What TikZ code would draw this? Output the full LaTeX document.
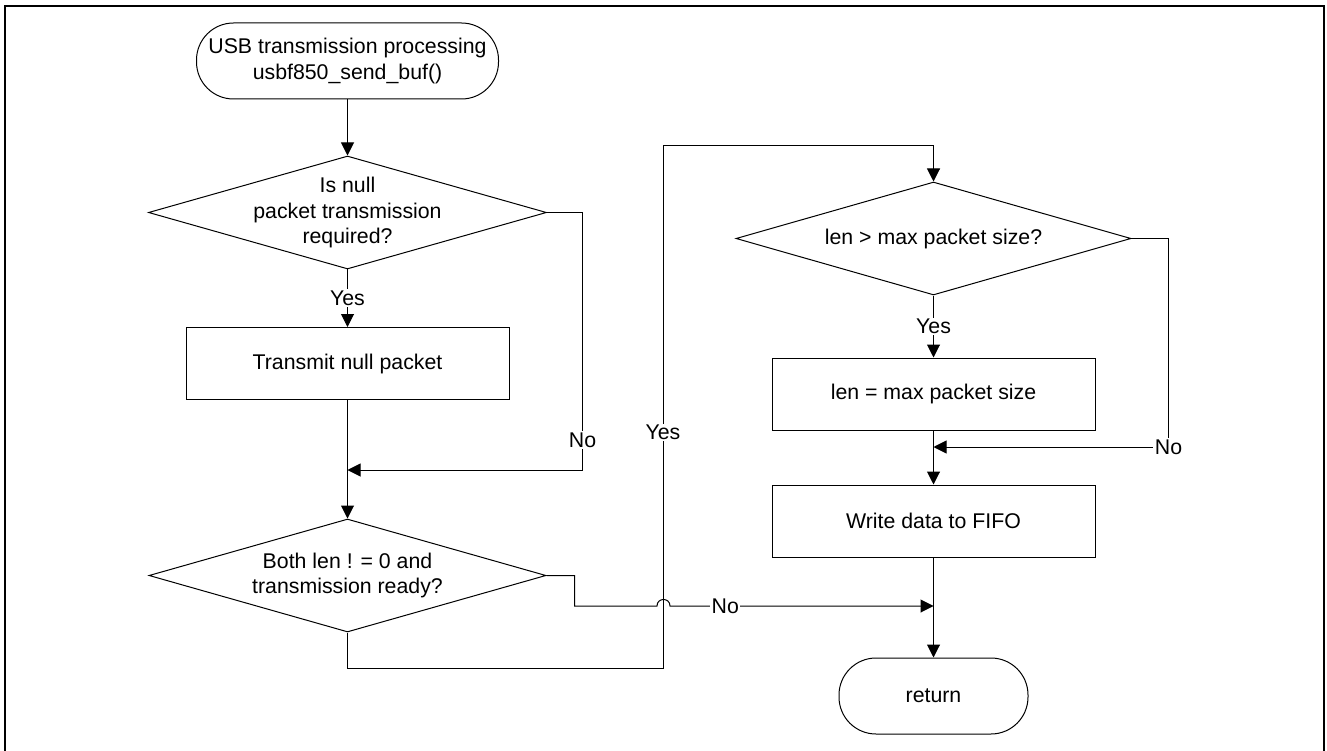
\documentclass[tikz,border=0pt]{standalone}
\usepackage{fontspec}
\setmainfont{Liberation Sans}
\usetikzlibrary{shapes.geometric,arrows.meta}
\begin{document}
\begin{tikzpicture}[x=1pt,y=-1pt,
  font=\fontsize{21.3pt}{25.5pt}\selectfont,
  line width=1pt,
  every node/.style={inner sep=0pt},
  term/.style={draw, rectangle, rounded corners=37pt,
    minimum width=#1, minimum height=76pt, align=center},
  proc/.style={draw, rectangle, minimum width=323pt, minimum height=72pt, align=center},
  decision/.style={draw, diamond, minimum width=#1, minimum height=113pt},
  arr/.style={-{Triangle[length=13pt,width=13pt]}},
  lbl/.style={fill=white, inner sep=1.5pt, text depth=0pt},
]
\useasboundingbox (0,0) rectangle (1327,751);

% open frame
\draw[line width=2pt] (5,751) -- (5,6) -- (1324,6) -- (1324,751);

% left column
\node[term=302pt] (start) at (347.5,61) {USB transmission processing\\usbf850\_send\_buf()};
\node[decision=398pt, label={[align=center]center:Is null\\packet transmission\\required?}] (d1) at (347.5,212.5) {};
\node[proc] (box1) at (347.5,363.5) {Transmit null packet};
\node[decision=397pt, label={[align=center]center:Both len ! = 0 and\\transmission ready?}] (d2) at (347.5,575.5) {};

% right column
\node[decision=395pt, label={center:len > max packet size?}] (d3) at (933.5,238.5) {};
\node[proc] (box2) at (933.5,394) {len = max packet size};
\node[proc] (box3) at (933.5,521) {Write data to FIFO};
\node[term=189pt] (ret) at (933.5,696) {return};

% merge points and bends
\coordinate (m1) at (347.5,470);
\coordinate (m2) at (933.5,447);
\coordinate (m3) at (933.5,606);
\coordinate (loopTop) at (663,146);

% connectors
\draw[arr] (start.south) -- (d1.north);
\draw[arr] (d1.south) -- node[lbl]{Yes} (box1.north);
\draw[arr] (box1.south) -- (d2.north);
\draw[arr] (d1.east) -- ++(35.5,0) |- node[lbl,pos=0.442]{No} (m1);

\draw[arr] (d2.south) -- ++(0,36) -| node[lbl,pos=0.726]{Yes} (loopTop) -| (d3.north);
\draw[arr] (d2.east) -- ++(28,0) -- ++(0,30.5) -- (657,606)
  .. controls (657,597.3) and (670,597.3) .. (670,606)
  -- node[lbl,pos=0.21]{No} (m3);

\draw[arr] (d3.south) -- node[lbl]{Yes} (box2.north);
\draw[arr] (d3.east) -- ++(37,0) |- node[lbl,pos=0.5]{No} (m2);
\draw[arr] (box2.south) -- (box3.north);
\draw[arr] (box3.south) -- (ret.north);
\end{tikzpicture}
\end{document}
